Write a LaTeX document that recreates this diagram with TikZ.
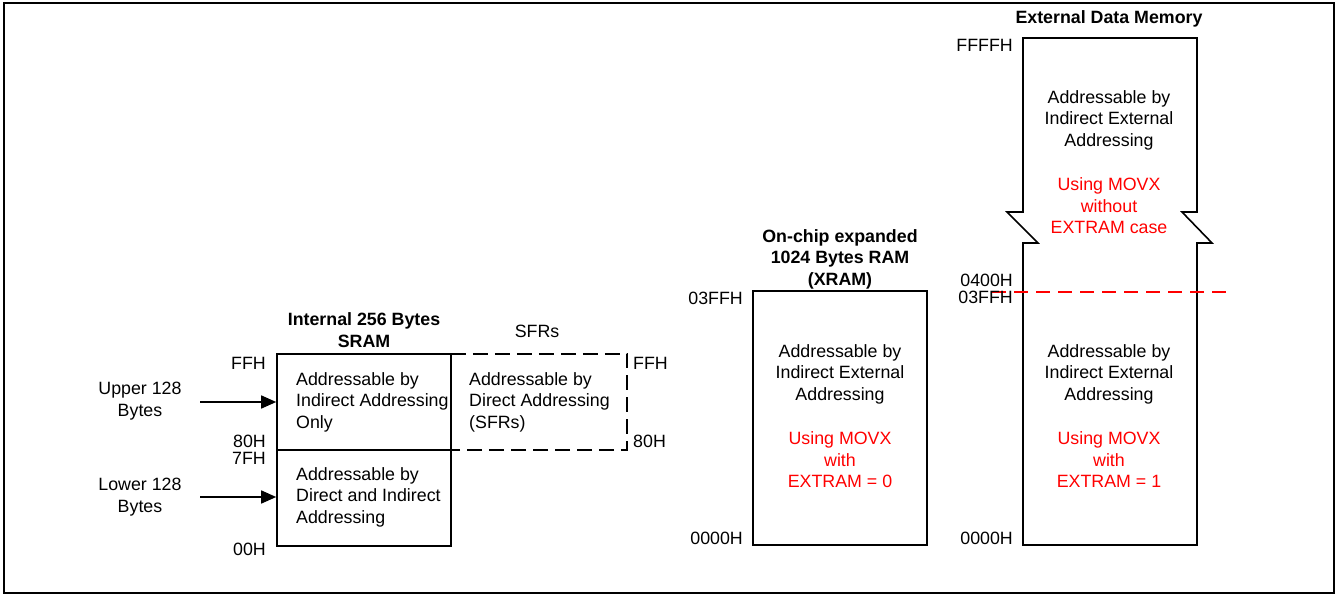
\documentclass[tikz,border=0pt]{standalone}
\usepackage{fontspec}
\setmainfont{Liberation Sans}
\usetikzlibrary{arrows.meta}
\begin{document}
\begin{tikzpicture}[x=1pt,y=-1pt,
  txt/.style={font=\fontsize{17.8}{21.5}\selectfont, inner sep=0pt},
  ttl/.style={inner sep=0pt, font=\fontsize{17.8}{21.5}\selectfont\bfseries, align=center},
  lft/.style={txt, align=left, anchor=west},
  ctr/.style={txt, align=center},
  rlbl/.style={txt, anchor=east},
  llbl/.style={txt, anchor=west},
  box/.style={draw, line width=1.6pt, inner sep=0pt},
  arr/.style={line width=1.5pt, -{Triangle[length=15pt,width=13pt]}},
  sfrdash/.style={line width=2.4pt, dash pattern=on 15pt off 7pt},
  reddash/.style={red, line width=2.4pt, dash pattern=on 14pt off 8pt},
  redtxt/.style={txt, text=red, align=center}]
\useasboundingbox (0,0) rectangle (1341,595);
\draw[line width=1.8pt] (4,3) rectangle (1334,593);

% Internal SRAM
\node[ttl] (sramT) at (364,330) {Internal 256 Bytes\\SRAM};
\node[box, minimum width=174pt, minimum height=96pt] (sramU) at (364,402) {};
\node[box, minimum width=174pt, minimum height=96pt] (sramL) at (364,498) {};
\node[lft] (sramUt) at (296,402) {Addressable by\\Indirect Addressing\\Only};
\node[lft] (sramLt) at (296,497) {Addressable by\\Direct and Indirect\\Addressing};
\node[rlbl] (lFF) at (266,363) {FFH};
\node[rlbl] (l80) at (266,441) {80H};
\node[rlbl] (l7F) at (266,458) {7FH};
\node[rlbl] (l00) at (266,549) {00H};

% SFRs
\node[txt] (sfrT) at (537,331) {SFRs};
\node[inner sep=0pt, minimum width=176pt, minimum height=96pt] (sfr) at (539,402) {};
\draw[sfrdash] (sfr.north west) -- (sfr.north east) -- (sfr.south east) -- (sfr.south west);
\node[lft] (sfrt) at (469,402) {Addressable by\\Direct Addressing\\(SFRs)};
\node[llbl] (rFF) at (633,363) {FFH};
\node[llbl] (r80) at (633,441) {80H};

% arrows
\node[ctr] (up) at (140,401) {Upper 128\\Bytes};
\node[ctr] (lo) at (140,497) {Lower 128\\Bytes};
\coordinate (upS) at (200,402);
\coordinate (loS) at (200,497);
\draw[arr] (upS) -- (sramU.west);
\draw[arr] (loS) -- (sramL.west |- loS);

% XRAM
\node[ttl] (xT) at (840,259) {On-chip expanded\\1024 Bytes RAM\\(XRAM)};
\node[box, minimum width=174pt, minimum height=254pt] (xram) at (840,418) {};
\node[ctr] (xt1) at (840,374) {Addressable by\\Indirect External\\Addressing};
\node[redtxt] (xt2) at (840,460) {Using MOVX\\with\\EXTRAM = 0};
\node[rlbl] (x3FF) at (743,298) {03FFH};
\node[rlbl] (x000) at (743,538) {0000H};

% External data memory
\node[ttl] (eT) at (1109,19) {External Data Memory};
\draw[line width=1.6pt] (1023,545) -- (1023,243) -- (1038,243) -- (1007,212) -- (1023,212) -- (1023,38)
  -- (1197,38) -- (1197,212) -- (1182,212) -- (1212,243) -- (1197,243) -- (1197,545) -- cycle;
\coordinate (rdA) at (992,292);
\coordinate (rdB) at (1230,292);
\draw[reddash] (rdA) -- (rdB);
\node[ctr] (et1) at (1109,120) {Addressable by\\Indirect External\\Addressing};
\node[redtxt] (et2) at (1109,206) {Using MOVX\\without\\EXTRAM case};
\node[ctr] (et3) at (1109,374) {Addressable by\\Indirect External\\Addressing};
\node[redtxt] (et4) at (1109,460) {Using MOVX\\with\\EXTRAM = 1};
\node[rlbl] (eFFFF) at (1013,45) {FFFFH};
\node[rlbl] (e400) at (1013,280) {0400H};
\node[rlbl] (e3FF) at (1013,297) {03FFH};
\node[rlbl] (e000) at (1013,538) {0000H};
\end{tikzpicture}
\end{document}
